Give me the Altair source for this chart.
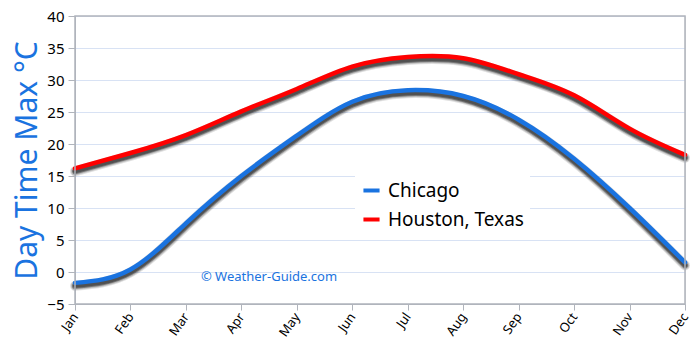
import altair as alt
import pandas as pd

months = ["Jan", "Feb", "Mar", "Apr", "May", "Jun", "Jul", "Aug", "Sep", "Oct", "Nov", "Dec"]
chicago = [-1.7, 0.4, 7.6, 15.0, 21.3, 26.6, 28.4, 27.5, 23.8, 17.7, 10.0, 1.5]
houston = [16.2, 18.6, 21.4, 25.1, 28.6, 32.1, 33.6, 33.4, 30.9, 27.6, 22.4, 18.3]
series_names = ["Chicago", "Houston, Texas"]
series_colors = ["#1a73e0", "#ff0000"]

rows = []
for m, c, h in zip(months, chicago, houston):
    rows.append({"month": m, "series": series_names[0], "value": c})
    rows.append({"month": m, "series": series_names[1], "value": h})
df = pd.DataFrame(rows)

FONT = "Noto Sans"
INTERP = "natural"

x = alt.X("month:N", sort=months, scale=alt.Scale(type="point", padding=0),
          axis=alt.Axis(title=None, labelAngle=305, labelAlign="right", labelBaseline="middle",
                        labelFontSize=13, labelColor="#000", labelFont=FONT, labelPadding=4,
                        domainColor="#b0b4bc", tickColor="#b0b4bc", tickSize=6, grid=False))
y = alt.Y("value:Q", scale=alt.Scale(domain=[-5, 40], nice=False, zero=False),
          axis=alt.Axis(title="Day Time Max °C", values=list(range(-5, 45, 5)),
                        titleFont=FONT, titleFontSize=30, titleFontWeight="normal",
                        titleColor="#1a73e0", titleAngle=270, titleX=-48, titleY=144,
                        titleAlign="center", titleBaseline="middle",
                        labelFontSize=15, labelColor="#000", labelFont=FONT, labelPadding=4,
                        domainColor="#b0b4bc", tickColor="#b0b4bc", tickSize=7,
                        gridColor="#d8e2f4", gridWidth=1.2))

base = alt.Chart(df)

shadows = []
for w, op, col in [(10, 0.12, "#000"), (8, 0.2, "#222"), (6, 0.5, "#333"), (4, 0.85, "#4a4a4a")]:
    shadows.append(
        base.mark_line(interpolate=INTERP, strokeWidth=w, opacity=op, color=col, strokeCap="round")
        .encode(x=x, y=y, detail="series:N", yOffset=alt.value(3))
    )

lines = base.mark_line(interpolate=INTERP, strokeWidth=4.5, strokeCap="round").encode(
    x=x, y=y,
    color=alt.Color("series:N", sort=series_names,
                    scale=alt.Scale(domain=series_names, range=series_colors),
                    legend=alt.Legend(title=None, orient="none", legendX=280, legendY=158,
                                      fillColor="white", padding=6, symbolType="stroke",
                                      symbolStrokeWidth=4, symbolSize=260, labelFontSize=19,
                                      labelFont=FONT, labelColor="#000", rowPadding=8,
                                      labelOffset=6)),
)

watermark = alt.Chart(pd.DataFrame({"t": ["© Weather-Guide.com"]})).mark_text(
    font=FONT, fontSize=13, color="#1a73e0", align="center", baseline="middle"
).encode(text="t:N", x=alt.value(194), y=alt.value(261))

border = alt.Chart(pd.DataFrame({"a": [0]})).mark_rect(
    fill=None, stroke="#b0b4bc", strokeWidth=1.5
).encode(x=alt.value(0), x2=alt.value(610), y=alt.value(0), y2=alt.value(288))

chart = alt.layer(*shadows, lines, watermark, border).properties(
    width=610, height=288,
    autosize=alt.AutoSizeParams(type="none"),
    padding={"left": 75, "top": 16, "right": 15, "bottom": 41},
).configure_view(stroke=None).configure(background="white")

chart.save("out.html", embed_options={"renderer": "svg", "actions": False})
